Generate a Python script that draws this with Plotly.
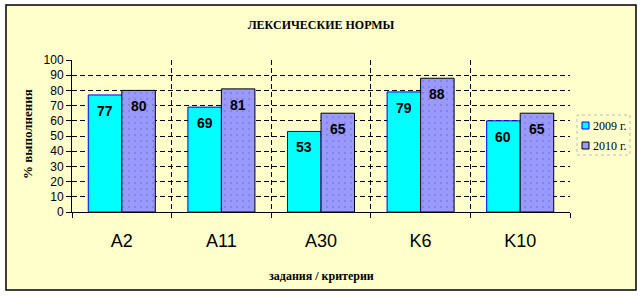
import plotly.graph_objects as go

categories = ["A2", "A11", "A30", "K6", "K10"]
series_names = ["2009 г.", "2010 г."]
values_2009 = [77, 69, 53, 79, 60]
values_2010 = [80, 81, 65, 88, 65]
y_ticks = list(range(0, 101, 10))

W, H = 643, 296
ML, MR, MT, MB = 72, 73, 60, 84
PW, PH = W - ML - MR, H - MT - MB


def px2x(px):
    return (px - ML) / PW


def py2y(py):
    return (H - MB - py) / PH


BG = "#FFFFCC"
CYAN = "#00FFFF"
PURPLE = "#9999FF"
BARGAP = 0.327

fig = go.Figure()
fig.add_trace(go.Bar(
    x=categories, y=values_2009, name=series_names[0],
    marker=dict(color=CYAN, line=dict(color="#0000FF", width=1)),
    showlegend=False, hoverinfo="skip",
))
fig.add_trace(go.Bar(
    x=categories, y=values_2010, name=series_names[1],
    marker=dict(color=PURPLE, line=dict(color="#000000", width=1),
                pattern=dict(shape=".", size=6, solidity=0.12, fgcolor="#6F6FC0")),
    showlegend=False, hoverinfo="skip",
))

# data labels (positioned through the data axes)
half = (1 - BARGAP) / 4
annotations = []
for vals, off in ((values_2009, -half), (values_2010, half)):
    for i, v in enumerate(vals):
        annotations.append(dict(
            x=i + off, y=v, xref="x", yref="y", text=f"<b>{v}</b>",
            showarrow=False, yanchor="middle", yshift=-16,
            font=dict(family="Arial", size=14, color="black"),
        ))

# axis titles
annotations.append(dict(
    x=px2x(27), y=py2y(134), xref="paper", yref="paper",
    text="<b>% выполнения</b>", textangle=-90, showarrow=False,
    font=dict(family="Liberation Serif", size=13, color="black"),
    xanchor="center", yanchor="middle",
))
annotations.append(dict(
    x=px2x(321), y=py2y(276), xref="paper", yref="paper",
    text="<b>задания / критерии</b>", showarrow=False,
    font=dict(family="Liberation Serif", size=12, color="black"),
    xanchor="center", yanchor="middle",
))

# manual legend
shapes = [
    dict(type="rect", xref="paper", yref="paper", layer="below",
         x0=px2x(6), x1=px2x(636), y0=py2y(290), y1=py2y(5),
         fillcolor=BG, line=dict(color="black", width=1.5)),
    dict(type="rect", xref="paper", yref="paper",
         x0=px2x(577), x1=px2x(630), y0=py2y(155), y1=py2y(115),
         fillcolor=BG, line=dict(color="#BBBBBB", width=1, dash="dot")),
]
legend_items = [(CYAN, "#0000FF", 125.5), (PURPLE, "#000000", 145.5)]
for (fill, edge, cy), name in zip(legend_items, series_names):
    shapes.append(dict(type="rect", xref="paper", yref="paper",
                       x0=px2x(582), x1=px2x(589), y0=py2y(cy + 3.5), y1=py2y(cy - 3.5),
                       fillcolor=fill, line=dict(color=edge, width=1)))
    annotations.append(dict(
        x=px2x(591), y=py2y(cy), xref="paper", yref="paper", text=name,
        showarrow=False, xanchor="left", yanchor="middle",
        font=dict(family="Liberation Serif", size=12, color="black"),
    ))

fig.update_layout(
    width=W, height=H,
    margin=dict(l=ML, r=MR, t=MT, b=MB, pad=0),
    paper_bgcolor="white", plot_bgcolor="rgba(0,0,0,0)",
    barmode="group", bargap=BARGAP, bargroupgap=0,
    title=dict(text="<b>ЛЕКСИЧЕСКИЕ НОРМЫ</b>", x=px2x(321) * PW / W + ML / W,
               xanchor="center", y=1 - 25 / H, yanchor="middle",
               font=dict(family="Liberation Serif", size=12, color="black")),
    shapes=shapes, annotations=annotations,
    showlegend=False,
)
fig.update_xaxes(
    type="category", tickson="boundaries", ticks="outside", ticklen=5,
    tickcolor="black", showline=True, linecolor="black", linewidth=1,
    showgrid=True, gridcolor="black", griddash="5px,3px", gridwidth=1,
    tickfont=dict(family="Arial", size=18, color="black"),
    ticklabelstandoff=12,
)
fig.update_yaxes(
    range=[0, 100], tickvals=y_ticks, ticks="outside", ticklen=5,
    tickcolor="black", showline=True, linecolor="black", linewidth=1,
    showgrid=True, gridcolor="black", griddash="5px,3px", gridwidth=1,
    zeroline=False, tickfont=dict(family="Arial", size=12, color="black"),
)

fig.write_html("out.html")
